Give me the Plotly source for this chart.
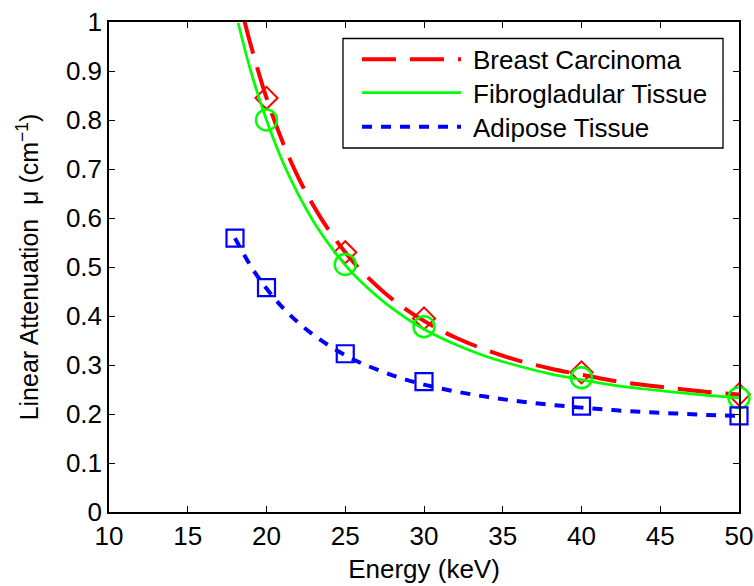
import plotly.graph_objects as go

# Measured data points (markers)
carc_E = [20, 25, 30, 40, 50]
carc_mu = [0.845, 0.530, 0.395, 0.285, 0.240]
fibro_E = [20, 25, 30, 40, 50]
fibro_mu = [0.800, 0.505, 0.378, 0.274, 0.233]
adip_E = [18, 20, 25, 30, 40, 50]
adip_mu = [0.559, 0.458, 0.323, 0.266, 0.216, 0.196]

# Fitted curves
carc_fit_E = [18.6, 19, 20, 21, 22, 23, 24, 25, 26, 28, 30, 32, 34, 36, 38, 40, 42, 44, 46, 48, 50]
carc_fit_mu = [1.002, 0.953, 0.845, 0.757, 0.684, 0.624, 0.573, 0.530, 0.493, 0.434, 0.390,
               0.356, 0.330, 0.309, 0.293, 0.280, 0.268, 0.259, 0.252, 0.245, 0.240]
fibro_fit_E = [18.2, 19, 20, 21, 22, 23, 24, 25, 26, 28, 30, 32, 34, 36, 38, 40, 42, 44, 46, 48, 50]
fibro_fit_mu = [0.998, 0.900, 0.800, 0.717, 0.649, 0.592, 0.545, 0.504, 0.470, 0.415, 0.373,
                0.342, 0.317, 0.298, 0.282, 0.270, 0.259, 0.251, 0.244, 0.238, 0.233]
adip_fit_E = [18, 19, 20, 21, 22, 23, 24, 25, 26, 28, 30, 32, 34, 36, 38, 40, 42, 44, 46, 48, 50]
adip_fit_mu = [0.559, 0.502, 0.456, 0.418, 0.387, 0.361, 0.339, 0.320, 0.304, 0.279, 0.260,
               0.246, 0.235, 0.226, 0.219, 0.213, 0.208, 0.204, 0.201, 0.198, 0.196]

x_ticks = [10, 15, 20, 25, 30, 35, 40, 45, 50]
y_ticks = [0, 0.1, 0.2, 0.3, 0.4, 0.5, 0.6, 0.7, 0.8, 0.9, 1]
y_tick_labels = ["0", "0.1", "0.2", "0.3", "0.4", "0.5", "0.6", "0.7", "0.8", "0.9", "1"]

legend_names = ["Breast Carcinoma", "Fibrogladular Tissue", "Adipose Tissue"]

RED, GREEN, BLUE = "#FF0000", "#00FF00", "#0000FF"
FONT = "Liberation Sans, Arial, sans-serif"
FS = 26

fig = go.Figure()

fig.add_trace(go.Scatter(x=carc_fit_E, y=carc_fit_mu, mode="lines", line_shape="spline",
                         line=dict(color=RED, width=4, dash="34px,14px"), showlegend=False))
fig.add_trace(go.Scatter(x=carc_E, y=carc_mu, mode="markers", cliponaxis=False,
                         marker=dict(symbol="diamond-open", size=17, color=RED,
                                     line=dict(color=RED, width=2)), showlegend=False))
fig.add_trace(go.Scatter(x=fibro_fit_E, y=fibro_fit_mu, mode="lines", line_shape="spline",
                         line=dict(color=GREEN, width=2.7), showlegend=False))
fig.add_trace(go.Scatter(x=fibro_E, y=fibro_mu, mode="markers", cliponaxis=False,
                         marker=dict(symbol="circle-open", size=21, color=GREEN,
                                     line=dict(color=GREEN, width=2.4)), showlegend=False))
fig.add_trace(go.Scatter(x=adip_fit_E, y=adip_fit_mu, mode="lines", line_shape="spline",
                         line=dict(color=BLUE, width=4, dash="10px,9px"), showlegend=False))
fig.add_trace(go.Scatter(x=adip_E, y=adip_mu, mode="markers", cliponaxis=False,
                         marker=dict(symbol="square-open", size=17, color=BLUE,
                                     line=dict(color=BLUE, width=2.2)), showlegend=False))

# Legend drawn as a box, sample lines and labels
L = 109.0; R = 739.0; T = 22.0; B = 512.0
def px(xp):
    return (xp - L) / (R - L)
def py(yp):
    return (B - yp) / (B - T)

shapes = [dict(type="rect", xref="paper", yref="paper", x0=px(343), x1=px(723),
               y0=py(148), y1=py(38.5), line=dict(color="black", width=1.3),
               fillcolor="white", layer="above")]
leg_styles = [dict(color=RED, width=4, dash="34px,14px"),
              dict(color=GREEN, width=2.7),
              dict(color=BLUE, width=4, dash="10px,9px")]
leg_y = [59.3, 92.7, 126.7]
annotations = []
for name, st, yy in zip(legend_names, leg_styles, leg_y):
    shapes.append(dict(type="line", xref="paper", yref="paper", x0=px(362), x1=px(461),
                       y0=py(yy), y1=py(yy), line=st, layer="above"))
    annotations.append(dict(text=name, xref="paper", yref="paper", x=px(471), y=py(yy + 1),
                            xanchor="left", yanchor="middle", showarrow=False,
                            font=dict(family=FONT, size=FS, color="black")))

fig.update_layout(
    width=754, height=586,
    margin=dict(l=109, r=15, t=22, b=74),
    paper_bgcolor="white", plot_bgcolor="white",
    font=dict(family=FONT, size=FS, color="black"),
    shapes=shapes, annotations=annotations,
    xaxis=dict(range=[10, 50], tickvals=x_ticks, ticktext=[str(v) for v in x_ticks],
               ticks="inside", ticklen=6, tickwidth=1, tickcolor="black",
               showline=True, linecolor="black", linewidth=1.5, mirror="ticks",
               showgrid=False, zeroline=False, automargin=False,
               tickfont=dict(family=FONT, size=FS),
               title=dict(text="Energy (keV)", font=dict(family=FONT, size=FS), standoff=10)),
    yaxis=dict(range=[0, 1], tickvals=y_ticks, ticktext=y_tick_labels,
               ticks="inside", ticklen=6, tickwidth=1, tickcolor="black",
               showline=True, linecolor="black", linewidth=1.5, mirror="ticks",
               showgrid=False, zeroline=False, automargin=False,
               tickfont=dict(family=FONT, size=FS),
               title=dict(text="Linear Attenuation  μ (cm<sup>−1</sup>)",
                          font=dict(family=FONT, size=FS - 1), standoff=20)),
)

fig.write_html("out.html")
